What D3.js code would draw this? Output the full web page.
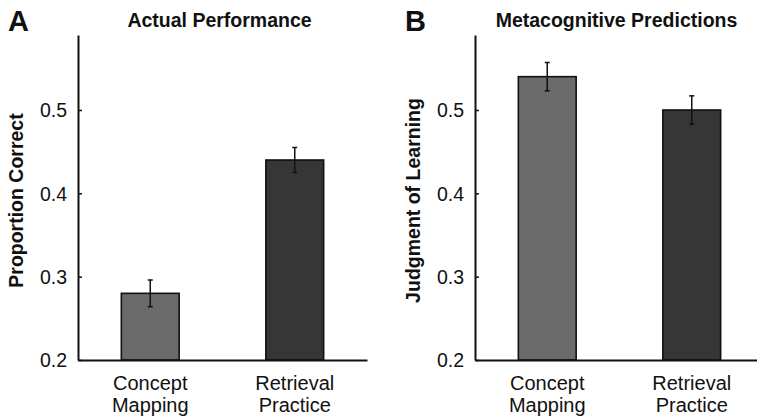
<!DOCTYPE html>
<html>
<head>
<meta charset="utf-8">
<script src="https://cdn.jsdelivr.net/npm/d3@7"></script>
<style>
  html, body { margin: 0; padding: 0; background: #fff; }
  svg { display: block; }
  text { font-family: "Liberation Sans", Arial, Helvetica, sans-serif; fill: #111; }
</style>
</head>
<body>
<svg id="chart" width="757" height="420"></svg>
<script>
// Conditions shared by both panels
const conditions = ["Concept Mapping", "Retrieval Practice"];
const conditionLines = [["Concept", "Mapping"], ["Retrieval", "Practice"]];
const barColors = ["#6b6b6b", "#363636"];

// Panel A: final test performance
const performanceMeans = [0.28, 0.44];
const performanceErrors = [0.016, 0.015];

// Panel B: judgments of learning
const predictionMeans = [0.54, 0.50];
const predictionErrors = [0.017, 0.017];

const yTicks = [0.2, 0.3, 0.4, 0.5];
const yDomain = [0.2, 0.59];

const panels = [
  { letter: "A", title: "Actual Performance", yLabel: "Proportion Correct",
    means: performanceMeans, errors: performanceErrors,
    left: 78, letterX: 8, labelX: 23 },
  { letter: "B", title: "Metacognitive Predictions", yLabel: "Judgment of Learning",
    means: predictionMeans, errors: predictionErrors,
    left: 475, letterX: 405, labelX: 420 }
];

const svg = d3.select("#chart");
const plotW = 289, plotTop = 35, plotBottom = 360;

const y = d3.scaleLinear().domain(yDomain).range([plotBottom, plotTop]);

panels.forEach(p => {
  const g = svg.append("g");
  const x = d3.scaleBand()
    .domain(conditions)
    .range([p.left, p.left + plotW])
    .paddingInner(0.6)
    .paddingOuter(0.3);

  // bars
  g.selectAll("rect.bar")
    .data(p.means)
    .join("rect")
    .attr("class", "bar")
    .attr("x", (d, i) => x(conditions[i]))
    .attr("width", x.bandwidth())
    .attr("y", d => y(d))
    .attr("height", d => y(yDomain[0]) - y(d))
    .attr("fill", (d, i) => barColors[i])
    .attr("stroke", "#111")
    .attr("stroke-width", 1.6);

  // error bars
  const cap = 2.5;
  p.means.forEach((m, i) => {
    const cx = x(conditions[i]) + x.bandwidth() / 2;
    const e = p.errors[i];
    const eg = g.append("g").attr("stroke", "#111").attr("stroke-width", 1.5);
    eg.append("line").attr("x1", cx).attr("x2", cx).attr("y1", y(m - e)).attr("y2", y(m + e));
    eg.append("line").attr("x1", cx - cap).attr("x2", cx + cap).attr("y1", y(m - e)).attr("y2", y(m - e));
    eg.append("line").attr("x1", cx - cap).attr("x2", cx + cap).attr("y1", y(m + e)).attr("y2", y(m + e));
  });

  // y axis with inward ticks
  const yAxis = d3.axisLeft(y)
    .tickValues(yTicks)
    .tickFormat(d3.format(".1f"))
    .tickSizeInner(-4)
    .tickSizeOuter(0)
    .tickPadding(11);
  const ya = g.append("g").attr("transform", `translate(${p.left},0)`).call(yAxis);
  ya.select(".domain").attr("stroke", "#111").attr("stroke-width", 2);
  ya.selectAll(".tick line").attr("stroke", "#111").attr("stroke-width", 1.5);
  ya.selectAll(".tick text")
    .attr("font-size", 19.5)
    .attr("fill", "#111")
    .attr("dy", "0.35em");

  // x axis baseline
  const xAxis = d3.axisBottom(x).tickSize(0).tickFormat("");
  const xa = g.append("g").attr("transform", `translate(0,${plotBottom})`).call(xAxis);
  xa.select(".domain").attr("stroke", "#111").attr("stroke-width", 2);
  xa.selectAll(".tick text").remove();

  // category labels on two lines
  conditions.forEach((c, i) => {
    const cx = x(c) + x.bandwidth() / 2;
    const t = g.append("text")
      .attr("text-anchor", "middle")
      .attr("font-size", 20);
    conditionLines[i].forEach((line, j) => {
      t.append("tspan").attr("x", cx).attr("y", 390 + j * 21.5).text(line);
    });
  });

  // y axis label
  g.append("text")
    .attr("transform", `translate(${p.labelX},${(plotTop + plotBottom) / 2 + 3}) rotate(-90)`)
    .attr("text-anchor", "middle")
    .attr("font-size", 19.5)
    .attr("font-weight", "bold")
    .text(p.yLabel);

  // panel title
  g.append("text")
    .attr("x", p.left + plotW / 2 - 3)
    .attr("y", 27)
    .attr("text-anchor", "middle")
    .attr("font-size", 19.5)
    .attr("font-weight", "bold")
    .text(p.title);

  // panel letter
  g.append("text")
    .attr("x", p.letterX)
    .attr("y", 31)
    .attr("font-size", 29)
    .attr("font-weight", "bold")
    .text(p.letter);
});
</script>
</body>
</html>
